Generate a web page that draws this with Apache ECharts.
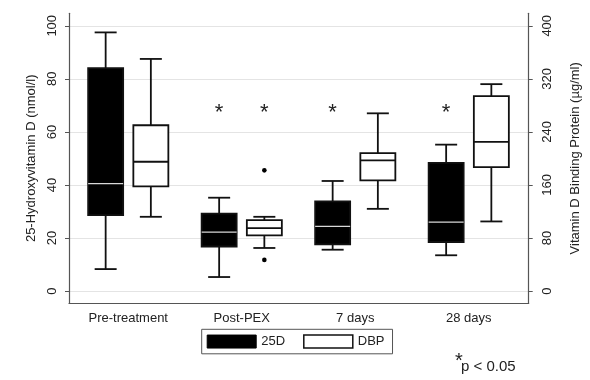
<!DOCTYPE html>
<html><head><meta charset="utf-8">
<script src="https://cdn.jsdelivr.net/npm/echarts@6/dist/echarts.min.js"></script>
<style>html,body{margin:0;padding:0;background:#fff}#c{width:590px;height:380px}</style>
</head><body><div id="c"></div>
<script>
const categories = ['Pre-treatment', 'Post-PEX', '7 days', '28 days'];
// [min, Q1, median, Q3, max]
const vitD25 = [
  [8.3, 28.6, 40.5, 84.0, 97.5],
  [5.3, 16.8, 22.2, 29.2, 35.2],
  [15.6, 17.6, 24.4, 33.8, 41.5],
  [13.5, 18.5, 26.0, 48.3, 55.2]
];
const dbp = [
  [112, 158, 195, 250, 350],
  [65, 84, 95, 107, 112],
  [124, 167, 197, 208, 268],
  [105, 187, 225, 294, 312]
];
const dbpOutliers = [[1, 182], [1, 47]];
const sig25D = [[1, 68], [2, 68], [3, 68]];
const sigDBP = [[1, 272]];
const leftTicks = [0, 20, 40, 60, 80, 100];
const rightTicks = [0, 80, 160, 240, 320, 400];

const FONT = 'Liberation Sans, Arial, sans-serif';
const TOP = 13.3, BOTTOM = 76.7;
const LMIN = -4.6, LMAX = 104.7;
const RMIN = LMIN * 4, RMAX = LMAX * 4;

function makeBox(offset, dark) {
  return function (params, api) {
    const i = api.value(0);
    const vals = [api.value(1), api.value(2), api.value(3), api.value(4), api.value(5)];
    const pts = vals.map(v => api.coord([i, v]));
    const xc = pts[0][0] + offset;
    const hw = 17.5, cap = 11;
    const y = pts.map(p => p[1]);
    const ls = { stroke: '#111', lineWidth: 1.8 };
    return {
      type: 'group',
      children: [
        { type: 'line', shape: { x1: xc, y1: y[4], x2: xc, y2: y[3] }, style: ls },
        { type: 'line', shape: { x1: xc, y1: y[0], x2: xc, y2: y[1] }, style: ls },
        { type: 'line', shape: { x1: xc - cap, y1: y[4], x2: xc + cap, y2: y[4] }, style: ls },
        { type: 'line', shape: { x1: xc - cap, y1: y[0], x2: xc + cap, y2: y[0] }, style: ls },
        { type: 'rect', shape: { x: xc - hw, y: y[3], width: hw * 2, height: y[1] - y[3] },
          style: { fill: dark ? '#000' : '#fff', stroke: '#111', lineWidth: 1.8 } },
        { type: 'line', shape: { x1: xc - hw, y1: y[2], x2: xc + hw, y2: y[2] },
          style: { stroke: dark ? '#d8d8d8' : '#111', lineWidth: dark ? 1.2 : 1.8 } }
      ]
    };
  };
}
function makeDot(offset) {
  return function (params, api) {
    const p = api.coord([api.value(0), api.value(1)]);
    return { type: 'circle', shape: { cx: p[0] + offset, cy: p[1], r: 2.3 }, style: { fill: '#000' } };
  };
}
function makeStar(offset) {
  return function (params, api) {
    const p = api.coord([api.value(0), api.value(1)]);
    return { type: 'text', style: { text: '*', x: p[0] + offset, y: p[1] + 2, fontSize: 22,
      fontFamily: FONT, fill: '#222', align: 'center', verticalAlign: 'middle' } };
  };
}

const chart = echarts.init(document.getElementById('c'), null, { renderer: 'canvas' });
chart.setOption({
  backgroundColor: '#fff',
  animation: false,
  grid: [
    { left: 69, right: 61.3, top: TOP, bottom: BOTTOM },
    { left: 71.5, right: 64.5, top: TOP, bottom: BOTTOM }
  ],
  xAxis: [
    { gridIndex: 0, type: 'category', data: categories,
      axisLine: { onZero: false, lineStyle: { color: '#555', width: 1.2 } },
      axisTick: { show: false }, axisLabel: { show: false }, splitLine: { show: false } },
    { gridIndex: 1, type: 'category', data: categories, axisLine: { show: false, onZero: false }, axisTick: { show: false },
      axisLabel: { show: true, fontFamily: FONT, fontSize: 13, color: '#222', margin: 9 } }
  ],
  yAxis: [
    { gridIndex: 0, type: 'value', position: 'left', min: LMIN, max: LMAX,
      name: '25-Hydroxyvitamin D (nmol/l)', nameLocation: 'middle', nameGap: 31,
      nameTextStyle: { fontFamily: FONT, fontSize: 13, color: '#222' },
      axisLine: { show: true, onZero: false, lineStyle: { color: '#555', width: 1.2 } },
      axisTick: { show: true, length: 4, customValues: leftTicks, lineStyle: { color: '#555' } },
      axisLabel: { customValues: leftTicks, rotate: 90, margin: 10, fontFamily: FONT, fontSize: 13, color: '#222' },
      splitLine: { show: true, lineStyle: { color: '#e4e4e4', width: 1 } } },
    { gridIndex: 0, type: 'value', position: 'right', min: RMIN, max: RMAX,
      name: 'Vitamin D Binding Protein (µg/ml)', nameLocation: 'middle', nameGap: 40,
      nameTextStyle: { fontFamily: FONT, fontSize: 13, color: '#222' },
      axisLine: { show: true, onZero: false, lineStyle: { color: '#555', width: 1.2 } },
      axisTick: { show: true, length: 4, customValues: rightTicks, lineStyle: { color: '#555' } },
      axisLabel: { customValues: rightTicks, rotate: 90, margin: 12, fontFamily: FONT, fontSize: 13, color: '#222' },
      splitLine: { show: false } },
    { gridIndex: 1, type: 'value', min: LMIN, max: LMAX, show: false },
    { gridIndex: 1, type: 'value', min: RMIN, max: RMAX, show: false }
  ],
  legend: {
    left: 201.7, top: 329.3, orient: 'horizontal',
    padding: [5, 8, 5, 5], itemGap: 18, itemWidth: 49, itemHeight: 13,
    borderColor: '#555', borderWidth: 1,
    textStyle: { fontFamily: FONT, fontSize: 13, color: '#222' },
    data: [
      { name: '25D', icon: 'rect', itemStyle: { color: '#000', borderColor: '#000', borderWidth: 1 } },
      { name: 'DBP', icon: 'rect', itemStyle: { color: '#fff', borderColor: '#111', borderWidth: 1.5 } }
    ]
  },
  graphic: [
    { type: 'text', left: 455, top: 351, style: { text: '*', fontSize: 20, fontFamily: FONT, fill: '#222' } },
    { type: 'text', left: 461, top: 359, style: { text: 'p < 0.05', fontSize: 15, fontFamily: FONT, fill: '#222' } }
  ],
  series: [
    { name: '25D', type: 'custom', xAxisIndex: 1, yAxisIndex: 2, itemStyle: { color: '#000' },
      renderItem: makeBox(-22.6, true), encode: { x: 0, y: [1, 2, 3, 4, 5] },
      data: vitD25.map((r, i) => [i].concat(r)) },
    { name: 'DBP', type: 'custom', xAxisIndex: 1, yAxisIndex: 3, itemStyle: { color: '#fff' },
      renderItem: makeBox(22.6, false), encode: { x: 0, y: [1, 2, 3, 4, 5] },
      data: dbp.map((r, i) => [i].concat(r)) },
    { name: 'DBP outliers', type: 'custom', xAxisIndex: 1, yAxisIndex: 3,
      renderItem: makeDot(22.6), encode: { x: 0, y: 1 }, data: dbpOutliers },
    { name: 'sig25D', type: 'custom', xAxisIndex: 1, yAxisIndex: 2,
      renderItem: makeStar(-22.6), encode: { x: 0, y: 1 }, data: sig25D },
    { name: 'sigDBP', type: 'custom', xAxisIndex: 1, yAxisIndex: 3,
      renderItem: makeStar(22.6), encode: { x: 0, y: 1 }, data: sigDBP }
  ]
});
</script></body></html>
